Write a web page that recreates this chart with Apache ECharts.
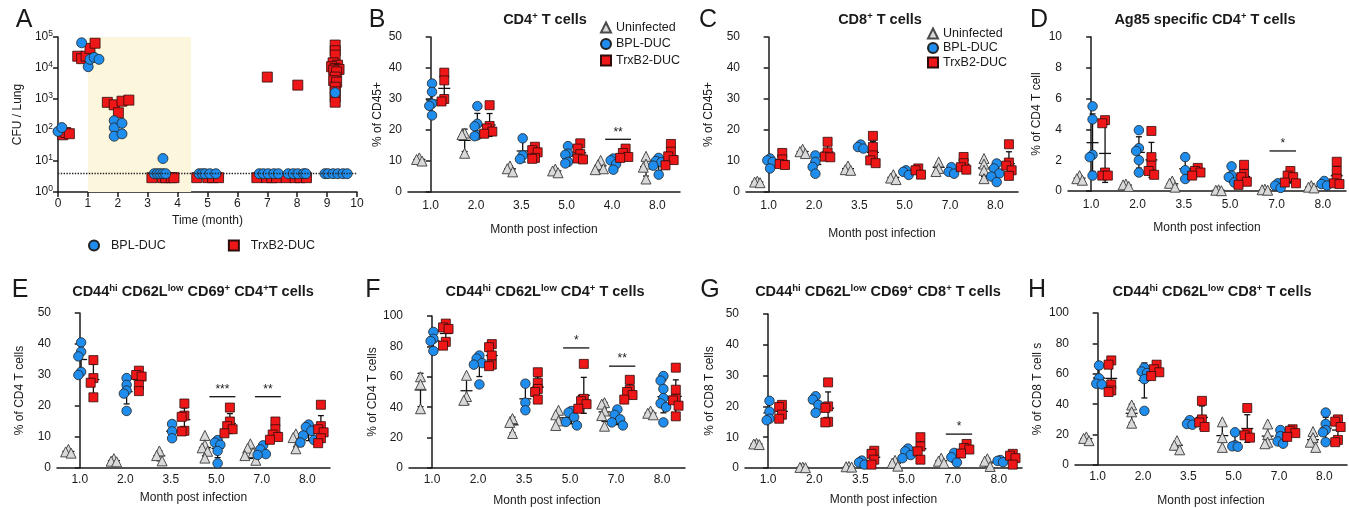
<!DOCTYPE html>
<html>
<head>
<meta charset="utf-8">
<script src="https://cdn.jsdelivr.net/npm/echarts@6/dist/echarts.min.js"></script>
<style>
  html, body { margin: 0; background: #fff; }
  #chart { width: 1349px; height: 508px; }
</style>
</head>
<body>
<div id="chart"></div>
<script>
// ---- data ----
// panel A: [month, CFU per lung]
const aBpl = [
  [0, 90], [0.13, 120],
  [0.79, 65000], [1.01, 11000], [1.07, 19000], [1.21, 22000], [1.37, 19000],
  [1.88, 200], [1.88, 117], [1.88, 63], [2.14, 165], [2.14, 75],
  [3.51, 12], [3.22, 3.9], [3.32, 3.9], [3.41, 3.9], [3.51, 3.9], [3.6, 3.9],
  [4.72, 3.9], [4.83, 3.9], [4.92, 3.9], [5.08, 3.9], [5.28, 3.9],
  [6.73, 3.9], [6.87, 3.9], [7.03, 3.9], [7.22, 3.9], [7.37, 3.9],
  [7.7, 3.9], [7.87, 3.9], [8.02, 3.9], [8.21, 3.9], [8.29, 3.9],
  [8.93, 3.9], [9.03, 3.9], [9.2, 3.9], [9.36, 3.9], [9.53, 3.9], [9.67, 3.9],
  [9.27, 1600]
];
const aTrx = [
  [0.16, 70], [0.26, 83], [0.38, 76],
  [0.66, 24000], [0.79, 20000], [0.94, 24000], [1.07, 43000], [1.24, 63000],
  [1.65, 780], [1.88, 650], [2.02, 360], [2.14, 850], [2.37, 920],
  [3.14, 2.9], [3.5, 2.9], [3.6, 2.9], [3.79, 2.9], [3.88, 2.9],
  [4.64, 2.9], [5.01, 2.9], [5.17, 2.9], [5.37, 2.9],
  [6.65, 2.9], [6.98, 2.9], [7.15, 2.9], [7.31, 2.9], [7.0, 5100],
  [7.63, 2.9], [7.93, 2.9], [8.09, 2.9], [8.31, 2.9], [8.02, 2800],
  [9.27, 55000], [9.27, 36000], [9.27, 26000], [9.2, 14700], [9.35, 12300],
  [9.15, 11000], [9.27, 9600], [9.4, 9000], [9.22, 8500], [9.32, 7500],
  [9.27, 5100], [9.22, 3900], [9.32, 3500], [9.27, 2400], [9.27, 1700],
  [9.27, 1150], [9.27, 790]
];

const months = ['1.0', '2.0', '3.5', '5.0', '7.0', '8.0'];
const monthsB = ['1.0', '2.0', '3.5', '5.0', '4.0', '8.0'];

// B: CD4+ T cells (% of CD45+)
const cd4Uninf = [[11, 10.5, 10], [19, 18.5, 12.5], [8.4, 7.5, 6.5], [7.4, 6.8, 6.2], [10.2, 8.8, 7.5, 7.2], [11.5, 9, 8, 4.2]];
const cd4Bpl = [[35, 32.3, 28.5, 27.8, 24.7], [27.7, 22, 21.2, 18.3, 18], [17.3, 11.8, 10.6], [14.8, 12.4, 12, 9.7, 9.2], [10.8, 10.2, 9, 7.2], [11, 10, 9.6, 8.5, 5.6]];
const cd4Trx = [[38.5, 36, 30, 29.2], [28, 21.3, 20.5, 19.5, 18.8], [14.6, 13.5, 12.8, 11, 10.7], [15.7, 14, 12.2, 10.8, 10.5], [14, 12.6, 11.3, 11], [15.5, 13, 11.5, 10.3, 8.6]];
const sigB = [[4, 17, '**']];

// C: CD8+ T cells (% of CD45+)
const cd8Uninf = [[3.5, 3.2, 3], [13.8, 13, 12.4], [8.4, 7.2, 7], [5.6, 4.5, 4], [9.7, 7.6, 6.6], [10.8, 9, 7, 4.3]];
const cd8Bpl = [[10.8, 10.2, 9.7, 7.6], [11.8, 9.7, 8.1, 5.9], [15.3, 14.5, 14], [7, 6.5, 5.5], [8, 6.5, 5.9], [9.2, 7.6, 6, 5, 3.2]];
const cd8Trx = [[12.6, 10.5, 9, 8.7], [16.2, 12.8, 11.4, 11.2], [18.1, 14.5, 11.8, 10.2, 9.3], [7.6, 7, 5.6], [11.3, 9.3, 8, 7.2], [15.4, 9.5, 8.5, 7, 5.2]];
const sigC = [];

// D: Ag85 specific CD4+ T cells
const agUninf = [[1, 0.8, 0.7], [0.45, 0.4, 0.3], [0.65, 0.5, 0.25], [0.08, 0.05, 0.02], [0.12, 0.08, 0.05], [0.35, 0.25, 0.2]];
const agBpl = [[5.5, 4.65, 2.35, 2.2, 1], [3.95, 2.78, 2.6, 2, 1.2], [2.2, 1.35, 0.78], [1.6, 1, 0.9, 0.55], [0.5, 0.35, 0.2], [0.65, 0.45, 0.35]];
const agTrx = [[4.6, 4.4, 1.2, 1, 1], [3.9, 2.2, 1.65, 1.3, 1.05], [1.5, 1.3, 1.2, 1], [1.7, 1.1, 0.9, 0.6, 0.4], [1.3, 1, 0.9, 0.55, 0.5], [1.9, 1.3, 0.8, 0.5, 0.45]];
const sigD = [[4, 2.6, '*']];

// E: CD44hi CD62Llow CD69+ CD4+ T cells
const eUninf = [[6, 5.2, 4.8], [3, 2.2, 2], [5.5, 4, 2.3], [10.5, 7.5, 6.5, 5.4, 3.2], [7.8, 6.4, 5, 4, 2.5], [11, 9.8, 8.5, 6.2]];
const eBpl = [[40.5, 37.5, 36, 31, 30], [29, 26.8, 25, 24, 18.4], [14.2, 11.8, 9.6], [9, 8.2, 7.5, 5.5, 1.5], [7.3, 6, 4.5, 4.2], [14, 13.2, 12, 10.5, 9, 8.2]];
const eTrx = [[34.8, 29, 27.5, 22.8], [31.4, 30, 29.5, 26.8, 24.8], [20.8, 16.9, 16.5, 12, 11.8], [19.5, 15, 13.5, 12.5, 11.2], [15, 12.5, 10.8, 10, 9.1], [20.4, 13.5, 12.5, 11.5, 9.6, 8]];
const sigE = [[3, 23, '***'], [4, 23, '**']];

// F: CD44hi CD62Llow CD4+ T cells
const fUninf = [[60, 55, 39], [61, 47, 44.5], [32.5, 30, 22.7], [38, 35, 31, 28], [43, 42, 37.5, 34.5, 27.5], [37.5, 36, 35]];
const fBpl = [[89.5, 85, 83.5, 77], [74, 72, 69, 68, 55], [55.5, 43, 38], [37.5, 36.5, 33.5, 30.3, 28], [38.5, 35, 32, 30, 28], [60.5, 57.5, 52, 46, 42.5, 40, 30]];
const fTrx = [[95, 92.5, 91.5, 83, 80.5], [81.5, 79.5, 74, 68, 67], [63, 56, 52, 50, 45], [68.5, 45.5, 44, 42, 39], [58, 51.5, 50, 48, 45], [66, 51.5, 45.5, 44.5, 41, 34]];
const sigF = [[3, 79, '*'], [4, 67, '**']];

// G: CD44hi CD62Llow CD69+ CD8+ T cells
const gUninf = [[8, 7.8, 7.6], [0.3, 0.2, 0.1], [0.5, 0.4, 0.3], [2.5, 1.6, 0.6], [3.2, 2.2, 1.6], [3, 2.2, 0.5]];
const gBpl = [[21.8, 18.3, 16, 15.5], [23.3, 22.2, 20.5, 17.9], [2.4, 1.8, 1.1], [6.3, 5.4, 4.2, 3.2], [4.9, 3.5, 1.8], [2.6, 2.3, 1.9]];
const gTrx = [[20.5, 19.8, 17.3, 16], [27.8, 20, 19.5, 15, 14.8], [5.6, 4.6, 2.7, 1.1], [10, 7, 5.4, 2.7], [7.8, 6.5, 6, 4.7], [4.6, 4, 3.2, 1.1]];
const sigG = [[4, 11, '*']];

// H: CD44hi CD62Llow CD8+ T cells
const hUninf = [[18.5, 17.5, 16], [39.5, 35, 27.5], [16, 13, 10], [28.4, 18, 11.6], [27, 20, 15, 14], [22, 18, 15, 11.6]];
const hBpl = [[65.5, 57, 53.5, 53], [64, 61.5, 60.5, 56.5, 35.6], [29.5, 27, 26.5], [21.5, 13, 12.3, 12], [23, 19, 15.5, 14], [34.5, 27, 23, 21.5, 15]];
const hTrx = [[68.8, 66, 53, 49, 48], [66, 63, 61, 58.5], [42.2, 30, 28, 25], [37.5, 21, 19.5, 18], [23.5, 22.5, 21, 18.5], [30, 28.5, 25, 16.5, 15]];
const sigH = [];

// ---- styling / layout ----
const FONT = '"Liberation Sans", Arial, Helvetica, sans-serif';
const INK = '#1a1a1a';
const axisLine = { show: true, lineStyle: { color: INK, width: 1.5 } };
const axisTick = { show: true, length: 5, lineStyle: { color: INK, width: 1.5 } };
const axisLabel = { color: INK, fontSize: 12, fontFamily: FONT };
const nameStyle = { color: INK, fontSize: 12, fontFamily: FONT };

const looks = [
  { name: 'Uninfected', symbol: 'triangle', size: 10, offset: -0.25,
    itemStyle: { color: '#d9d9d9', borderColor: '#4a4a4a', borderWidth: 1, opacity: 1 } },
  { name: 'BPL-DUC', symbol: 'circle', size: 9.5, offset: 0.03,
    itemStyle: { color: '#1f8ded', borderColor: '#222', borderWidth: 0.8, opacity: 1 } },
  { name: 'TrxB2-DUC', symbol: 'rect', size: 9, offset: 0.3,
    itemStyle: { color: '#ee1616', borderColor: '#2e0c0c', borderWidth: 0.8, opacity: 1 } }
];

const panels = [
  { letter: 'B', lx: 377, ly: 20, tx: 545, ty: 20, title: '{t|CD4}{s|+}{t| T cells}',
    cats: monthsB, sets: [cd4Uninf, cd4Bpl, cd4Trx], sig: sigB, max: 50, step: 10,
    yName: '% of CD45+', yGap: 24, xGap: 32, grid: { left: 408, top: 37, width: 272, height: 155 } },
  { letter: 'C', lx: 708, ly: 20, tx: 880, ty: 20, title: '{t|CD8}{s|+}{t| T cells}',
    cats: months, sets: [cd8Uninf, cd8Bpl, cd8Trx], sig: sigC, max: 50, step: 10,
    yName: '% of CD45+', yGap: 31, xGap: 36, grid: { left: 746, top: 37, width: 272, height: 155 } },
  { letter: 'D', lx: 1039, ly: 20, tx: 1205, ty: 20, title: '{t|Ag85 specific CD4}{s|+}{t| T cells}',
    cats: months, sets: [agUninf, agBpl, agTrx], sig: sigD, max: 10, step: 2,
    yName: '% of CD4 T cell', yGap: 25, xGap: 31, grid: { left: 1068, top: 37, width: 278, height: 154 } },
  { letter: 'E', lx: 20, ly: 290, tx: 193, ty: 292, title: '{t|CD44}{s|hi}{t| CD62L}{s|low}{t| CD69}{s|+}{t| CD4}{s|+}{t|T cells}',
    cats: months, sets: [eUninf, eBpl, eTrx], sig: sigE, max: 50, step: 10,
    yName: '% of CD4 T cells', yGap: 31, xGap: 24, grid: { left: 57, top: 313, width: 273, height: 155 } },
  { letter: 'F', lx: 373, ly: 290, tx: 545, ty: 292, title: '{t|CD44}{s|hi}{t| CD62L}{s|low}{t| CD4}{s|+}{t| T cells}',
    cats: months, sets: [fUninf, fBpl, fTrx], sig: sigF, max: 100, step: 20,
    yName: '% of CD4 T cells', yGap: 30, xGap: 27, grid: { left: 409, top: 316, width: 276, height: 154 } },
  { letter: 'G', lx: 710, ly: 290, tx: 878, ty: 292, title: '{t|CD44}{s|hi}{t| CD62L}{s|low}{t| CD69}{s|+}{t| CD8}{s|+}{t| T cells}',
    cats: months, sets: [gUninf, gBpl, gTrx], sig: sigG, max: 50, step: 10,
    yName: '% of CD8 T cells', yGap: 29, xGap: 26, grid: { left: 745, top: 314, width: 277, height: 154 } },
  { letter: 'H', lx: 1037, ly: 290, tx: 1212, ty: 292, title: '{t|CD44}{s|hi}{t| CD62L}{s|low}{t| CD8}{s|+}{t| T cells}',
    cats: months, sets: [hUninf, hBpl, hTrx], sig: sigH, max: 100, step: 20,
    yName: '% of CD8 T cell s', yGap: 31, xGap: 30, grid: { left: 1075, top: 313, width: 272, height: 154 } }
];

function mean(a) { return a.reduce((s, v) => s + v, 0) / a.length; }
function stdev(a) {
  const m = mean(a);
  return Math.sqrt(a.reduce((s, v) => s + (v - m) * (v - m), 0) / (a.length - 1));
}

// put points that sit close together side by side, like a column scatter
function spread(vals, center, span) {
  const out = [];
  let prev = null, k = 0;
  vals.slice().sort((a, b) => b - a).forEach(v => {
    if (prev !== null && Math.abs(prev - v) < span * 0.035) k++; else k = 0;
    const off = k === 0 ? 0 : (k % 2 ? -1 : 1) * Math.ceil(k / 2) * 0.06;
    out.push([center + off, v]);
    prev = v;
  });
  return out;
}

function renderErr(params, api) {
  const x = api.value(0), m = api.value(1), sd = api.value(2);
  const pm = api.coord([x, m]);
  const pt = api.coord([x, m + sd]);
  const low = m - sd;
  const pb = api.coord([x, Math.max(0, low)]);
  const st = { stroke: '#111', lineWidth: 1.3 };
  const kids = [
    { type: 'line', shape: { x1: pm[0], y1: pt[1], x2: pm[0], y2: pb[1] }, style: st },
    { type: 'line', shape: { x1: pm[0] - 6, y1: pm[1], x2: pm[0] + 6, y2: pm[1] }, style: st },
    { type: 'line', shape: { x1: pm[0] - 3, y1: pt[1], x2: pm[0] + 3, y2: pt[1] }, style: st }
  ];
  if (low > 0) kids.push({ type: 'line', shape: { x1: pm[0] - 3, y1: pb[1], x2: pm[0] + 3, y2: pb[1] }, style: st });
  return { type: 'group', children: kids };
}

function sigRender(list) {
  return function (params, api) {
    const s = list[params.dataIndex];
    const a = api.coord([s[0] - 0.15, s[1]]);
    const b = api.coord([s[0] + 0.42, s[1]]);
    return {
      type: 'group',
      children: [
        { type: 'line', shape: { x1: a[0], y1: a[1], x2: b[0], y2: b[1] }, style: { stroke: '#111', lineWidth: 1.3 } },
        { type: 'text', x: (a[0] + b[0]) / 2, y: a[1] - 1,
          style: { text: s[2], align: 'center', verticalAlign: 'bottom', fontSize: 12, fontFamily: FONT, fill: INK } }
      ]
    };
  };
}

const grid = [], xAxis = [], yAxis = [], series = [], graphic = [];

// ---- panel A ----
grid.push({ left: 58, top: 37, width: 299, height: 155 });
xAxis.push({
  type: 'value', gridIndex: 0, min: 0, max: 10, interval: 1,
  name: 'Time (month)', nameLocation: 'middle', nameGap: 23, nameTextStyle: nameStyle,
  axisLine, axisTick, axisLabel: { ...axisLabel, margin: 6 }, splitLine: { show: false }
});
yAxis.push({
  type: 'log', gridIndex: 0, min: 1, max: 100000, logBase: 10,
  name: 'CFU / Lung', nameLocation: 'middle', nameGap: 34, nameTextStyle: nameStyle,
  axisLine, axisTick, splitLine: { show: false },
  axisLabel: {
    margin: 5,
    formatter: v => '{b|10}{e|' + Math.round(Math.log10(v)) + '}',
    rich: {
      b: { fontSize: 12, color: INK, fontFamily: FONT, lineHeight: 15 },
      e: { fontSize: 8.5, color: INK, fontFamily: FONT, verticalAlign: 'top', lineHeight: 9 }
    }
  }
});
series.push({
  type: 'scatter', name: 'TrxB2-DUC', xAxisIndex: 0, yAxisIndex: 0, data: aTrx,
  symbol: 'rect', symbolSize: 10, itemStyle: looks[2].itemStyle,
  markArea: {
    silent: true, itemStyle: { color: '#fcf6dc' },
    data: [[{ xAxis: 1 }, { xAxis: 4.45 }]]
  }
});
series.push({
  type: 'scatter', name: 'BPL-DUC', xAxisIndex: 0, yAxisIndex: 0, data: aBpl,
  symbol: 'circle', symbolSize: 10, itemStyle: looks[1].itemStyle,
  markLine: {
    silent: true, symbol: 'none', label: { show: false },
    lineStyle: { type: 'dotted', color: '#222', width: 1.4 },
    data: [{ yAxis: 4 }]
  }
});
graphic.push({ type: 'text', x: 24, y: 20, style: { text: 'A', fontSize: 25, fontFamily: FONT, fill: INK, align: 'center', verticalAlign: 'middle' } });

// ---- panels B..H ----
const titleRich = {
  t: { fontSize: 14.5, fontWeight: 'bold', fontFamily: FONT, fill: INK, lineHeight: 18 },
  s: { fontSize: 9.5, fontWeight: 'bold', fontFamily: FONT, fill: INK, verticalAlign: 'top', lineHeight: 11 }
};

panels.forEach((p, k) => {
  const gi = k + 1;
  const hx = 2 * gi;
  grid.push(p.grid);
  xAxis.push({
    type: 'category', gridIndex: gi, data: p.cats, boundaryGap: true,
    name: 'Month post infection', nameLocation: 'middle', nameGap: p.xGap, nameTextStyle: nameStyle,
    axisLine, axisTick: { show: false }, axisLabel: { ...axisLabel, margin: gi > 3 ? 6 : 8 }
  });
  xAxis.push({ type: 'value', gridIndex: gi, min: -0.5, max: 5.5, show: false });
  yAxis.push({
    type: 'value', gridIndex: gi, min: 0, max: p.max, interval: p.step,
    name: p.yName, nameLocation: 'middle', nameGap: p.yGap, nameTextStyle: nameStyle,
    axisLine, axisTick, axisLabel: { ...axisLabel, margin: 6 }, splitLine: { show: false }
  });
  const bars = [];
  p.sets.forEach((set, s) => {
    const look = looks[s];
    const data = [];
    set.forEach((vals, g) => {
      spread(vals, g + look.offset, p.max).forEach(d => data.push(d));
      bars.push([g + look.offset, mean(vals), stdev(vals)]);
    });
    series.push({
      type: 'scatter', name: look.name, xAxisIndex: hx, yAxisIndex: gi,
      symbol: look.symbol, symbolSize: look.size, itemStyle: look.itemStyle, data
    });
  });
  series.push({
    type: 'custom', xAxisIndex: hx, yAxisIndex: gi, silent: true, clip: false,
    renderItem: renderErr, data: bars
  });
  if (p.sig.length) {
    series.push({
      type: 'custom', xAxisIndex: hx, yAxisIndex: gi, silent: true, clip: false,
      renderItem: sigRender(p.sig), data: p.sig.map(s => [s[0], s[1]])
    });
  }
  graphic.push({ type: 'text', x: p.lx, y: p.ly, style: { text: p.letter, fontSize: 25, fontFamily: FONT, fill: INK, align: 'center', verticalAlign: 'middle' } });
  graphic.push({ type: 'text', x: p.tx, y: p.ty, style: { text: p.title, rich: titleRich, align: 'center', verticalAlign: 'middle' } });
});

const legendText = { color: INK, fontSize: 12.5, fontFamily: FONT };
const legend = [
  { data: ['BPL-DUC', 'TrxB2-DUC'], orient: 'horizontal', left: 83, top: 234, itemWidth: 10, itemHeight: 10,
    itemGap: 62, selectedMode: false, textStyle: { ...legendText, padding: [0, 0, 0, 7] } },
  { data: ['Uninfected', 'BPL-DUC', 'TrxB2-DUC'], orient: 'vertical', left: 595, top: 16, itemWidth: 10, itemHeight: 10,
    itemGap: 3.5, selectedMode: false, textStyle: legendText },
  { data: ['Uninfected', 'BPL-DUC', 'TrxB2-DUC'], orient: 'vertical', left: 922, top: 22, itemWidth: 10, itemHeight: 10,
    itemGap: 1.5, selectedMode: false, textStyle: legendText }
];

const chart = echarts.init(document.getElementById('chart'));
chart.setOption({
  animation: false,
  backgroundColor: '#fff',
  textStyle: { fontFamily: FONT },
  grid, xAxis, yAxis, series, legend, graphic
});
</script>
</body>
</html>
